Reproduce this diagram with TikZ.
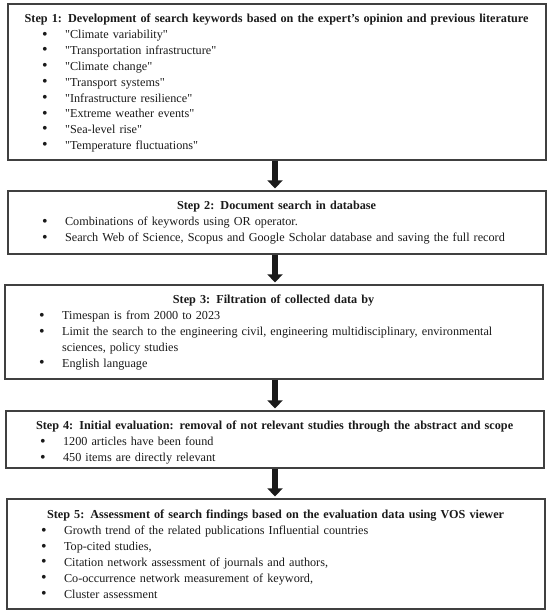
\documentclass[tikz,border=0pt]{standalone}
\usepackage{fontspec}
\setmainfont{Liberation Serif}
\usetikzlibrary{arrows.meta,calc}
\definecolor{boxline}{HTML}{404040}
\definecolor{inkc}{HTML}{1A1A1A}
\newcommand{\steptitle}[1]{{\centering\bfseries #1\par}\vspace{0.7pt}}
\newcommand{\stepbullet}{\raisebox{-0.3pt}{\scalebox{1.3}{\textbullet}}}
\newcommand{\stepitem}[1]{\noindent\hangindent=57.5pt\hangafter=1\hspace*{34.5pt}\makebox[23pt][l]{\stepbullet}#1\par}
\newcommand{\qq}[1]{\textquotedbl#1\textquotedbl}
\tikzset{
  stepbox/.style={draw=boxline, line width=1.2pt, fill=none, inner sep=0pt},
  stepcontent/.style={inner sep=0pt, text width=538pt, align=left, anchor=base west, text=inkc,
    font=\fontsize{12.2}{15.8}\selectfont},
  flowarrow/.style={draw=inkc, line width=6pt, -{Triangle[width=15pt,length=8pt]}, shorten >=2pt}
}
\begin{document}
\begin{tikzpicture}[x=1pt,y=-1pt]
\useasboundingbox (0,0) rectangle (550,610);
\node[stepbox, minimum width=538pt, minimum height=156pt] (s1) at (277,82) {};
\node[stepbox, minimum width=538pt, minimum height=63pt] (s2) at (277,222.5) {};
\node[stepbox, minimum width=538pt, minimum height=94pt] (s3) at (274,332) {};
\node[stepbox, minimum width=538pt, minimum height=57pt] (s4) at (275,439.5) {};
\node[stepbox, minimum width=538pt, minimum height=110pt] (s5) at (276,554) {};

\node[stepcontent] (t1) at ([yshift=-19pt]s1.north west) {%
\steptitle{Step 1: Development of search keywords based on the expert’s opinion and previous literature}
\stepitem{\qq{Climate variability}}
\stepitem{\qq{Transportation infrastructure}}
\stepitem{\qq{Climate change}}
\stepitem{\qq{Transport systems}}
\stepitem{\qq{Infrastructure resilience}}
\stepitem{\qq{Extreme weather events}}
\stepitem{\qq{Sea-level rise}}
\stepitem{\qq{Temperature fluctuations}}};

\node[stepcontent] (t2) at ([yshift=-19pt]s2.north west) {%
\steptitle{Step 2: Document search in database}
\stepitem{Combinations of keywords using OR operator.}
\stepitem{Search Web of Science, Scopus and Google Scholar database and saving the full record}};

\node[stepcontent] (t3) at ([yshift=-19pt]s3.north west) {%
\steptitle{Step 3: Filtration of collected data by}
\stepitem{Timespan is from 2000 to 2023}
\stepitem{Limit the search to the engineering civil, engineering multidisciplinary, environmental\newline sciences, policy studies}
\stepitem{English language}};

\node[stepcontent] (t4) at ([yshift=-19pt]s4.north west) {%
\steptitle{Step 4: Initial evaluation: removal of not relevant studies through the abstract and scope}
\stepitem{1200 articles have been found}
\stepitem{450 items are directly relevant}};

\node[stepcontent] (t5) at ([yshift=-20pt]s5.north west) {%
\steptitle{Step 5: Assessment of search findings based on the evaluation data using VOS viewer}
\stepitem{Growth trend of the related publications Influential countries}
\stepitem{Top-cited studies,}
\stepitem{Citation network assessment of journals and authors,}
\stepitem{Co-occurrence network measurement of keyword,}
\stepitem{Cluster assessment}};

\draw[flowarrow] ([xshift=-2pt]s1.south) -- ([xshift=-2pt]s1.south |- s2.north);
\draw[flowarrow] ([xshift=-2pt]s2.south) -- ([xshift=-2pt]s2.south |- s3.north);
\draw[flowarrow] ([xshift=1pt]s3.south) -- ([xshift=1pt]s3.south |- s4.north);
\draw[flowarrow] (s4.south) -- (s4.south |- s5.north);
\end{tikzpicture}
\end{document}
